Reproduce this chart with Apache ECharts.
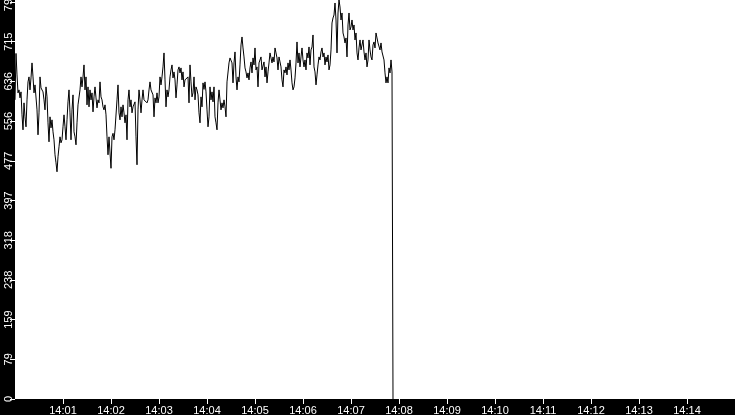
<!DOCTYPE html>
<html>
<head>
<meta charset="utf-8">
<script src="https://cdn.jsdelivr.net/npm/echarts@6/dist/echarts.min.js"></script>
<style>
html,body{margin:0;padding:0;background:#000;}
#c{width:735px;height:415px;}
</style>
</head>
<body>
<div id="c"></div>
<script>
// Sampling: series starts at 14:00:00, one sample every 1.25 s
const startClock = '14:00:00';
const sampleStepSec = 1.25;
const values = [
599,692,649,613,619,603,615,569,539,593,565,545,599,635,645,619,643,673,645,613,
629,633,579,529,573,645,623,625,615,599,579,625,605,553,515,565,543,559,535,519,
489,473,455,485,505,525,513,519,545,569,545,519,559,595,619,573,519,579,609,535,
525,509,553,589,593,619,645,625,645,669,619,645,589,625,585,619,599,613,575,605,
625,603,583,599,593,635,605,599,585,579,589,569,525,489,525,529,462,525,532,519,
539,543,599,629,573,559,585,565,589,573,553,569,519,599,619,585,599,573,585,583,
595,525,469,579,619,599,573,599,619,599,595,599,593,599,619,635,619,623,609,565,
603,593,613,593,605,645,629,645,665,693,639,585,619,605,619,645,659,669,643,655,
639,603,629,659,665,653,663,639,655,625,639,643,635,645,593,669,635,605,613,645,
599,625,619,609,573,553,605,585,633,620,
635,615,579,545,565,625,599,615,595,625,565,553,539,593,619,599,579,593,583,599,
585,565,635,639,673,683,685,673,633,673,695,645,619,645,635,669,709,725,703,685,
663,655,643,653,639,663,675,653,683,669,703,659,665,625,673,675,685,659,663,675,
645,665,633,655,673,693,683,673,685,675,703,693,683,659,685,675,665,639,625,659,
653,665,649,673,659,679,659,633,619,625,643,673,715,673,693,
665,685,703,679,665,679,659,693,683,705,669,699,705,729,665,655,629,649,669,685,
679,695,703,685,693,669,685,675,689,659,669,699,753,763,769,793,759,693,773,799,
785,759,773,733,725,713,723,685,749,773,739,745,759,739,749,719,733,693,679,703,
719,699,695,719,695,679,693,665,679,719,699,685,679,709,715,703,733,723,713,715,
699,713,695,699,679,653,633,645,633,663,653,679,655,0
];
const xAxisStart = '14:00';
const xAxisEnd = '14:15';
const xTickLabels = ['14:01','14:02','14:03','14:04','14:05','14:06','14:07','14:08','14:09','14:10','14:11','14:12','14:13','14:14'];
const yTickValues = [0,79.5,159,238.5,318,397.5,477,556.5,636,715.5,795];
const yTickLabels = ['0','79','159','238','318','397','477','556','636','715','795'];
const yMax = 799;

// seconds since midnight
function clockToSec(s){
  const p = s.split(':').map(Number);
  return p[0]*3600 + p[1]*60 + (p[2]||0);
}
const t0 = clockToSec(startClock);
const seriesData = values.map((v,i)=>[t0 + i*sampleStepSec, v]);
const xTickValues = xTickLabels.map(clockToSec);

const chart = echarts.init(document.getElementById('c'), null, {renderer:'canvas'});
chart.setOption({
  animation:false,
  backgroundColor:'#000',
  grid:{left:15,right:0,top:0,bottom:16,show:true,backgroundColor:'#fff',borderWidth:0,containLabel:false,outerBoundsMode:'none'},
  xAxis:{
    type:'value',
    min:clockToSec(xAxisStart),
    max:clockToSec(xAxisEnd),
    axisLine:{show:false},
    splitLine:{show:false},
    axisTick:{show:true,length:5,lineStyle:{color:'#fff',width:1},customValues:xTickValues},
    axisLabel:{
      color:'#fff',fontFamily:'Liberation Sans',fontSize:11,margin:6,
      customValues:xTickValues,
      formatter:function(v){const i=xTickValues.indexOf(v);return i>=0?xTickLabels[i]:'';}
    }
  },
  yAxis:{
    type:'value',
    min:0,max:yMax,
    axisLine:{show:false},
    splitLine:{show:false},
    axisTick:{show:true,length:5,lineStyle:{color:'#fff',width:1},customValues:yTickValues},
    axisLabel:{
      color:'#fff',fontFamily:'Liberation Sans',fontSize:11,margin:1,rotate:90,
      customValues:yTickValues,
      formatter:function(v){const i=yTickValues.indexOf(v);return i>=0?yTickLabels[i]:'';}
    }
  },
  series:[{
    type:'line',
    data:seriesData,
    showSymbol:false,
    symbol:'none',
    lineStyle:{color:'#000',width:1},
    silent:true
  }]
});
</script>
</body>
</html>
